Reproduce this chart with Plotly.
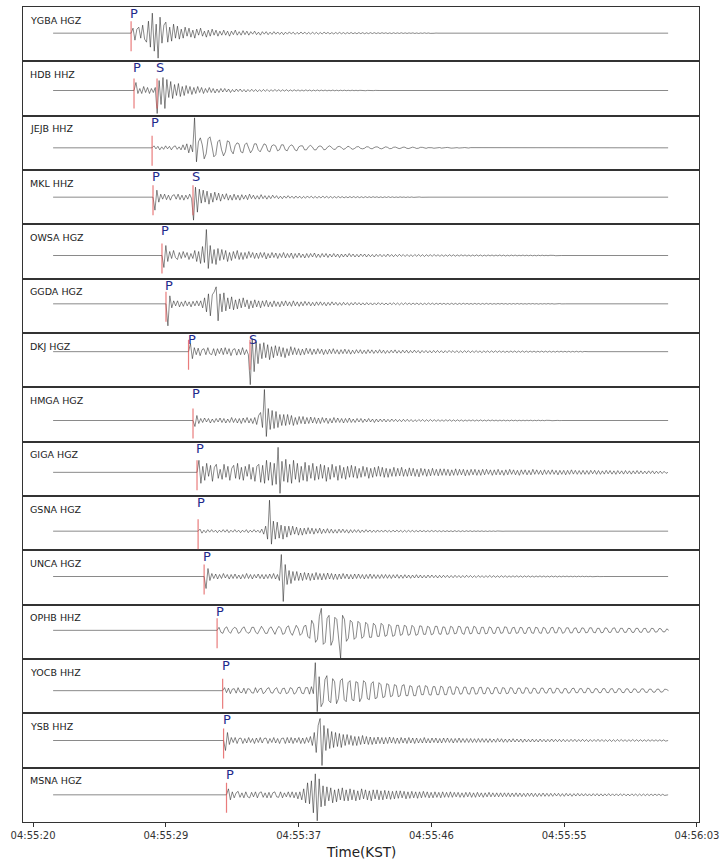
import numpy as np
import plotly.graph_objects as go
from plotly.subplots import make_subplots

# ---------------- data ----------------
stations = ["YGBA HGZ", "HDB HHZ", "JEJB HHZ", "MKL HHZ", "OWSA HGZ", "GGDA HGZ",
            "DKJ HGZ", "HMGA HGZ", "GIGA HGZ", "GSNA HGZ", "UNCA HGZ", "OPHB HHZ",
            "YOCB HHZ", "YSB HHZ", "MSNA HGZ"]

# seconds after 04:55:00 (KST)
p_times = [26.35, 26.54, 27.71, 27.77, 28.35, 28.61, 30.07, 30.36, 30.62, 30.69,
           31.08, 31.92, 32.28, 32.34, 32.53]
s_times = [None, 28.03, None, 30.36, None, None, 34.05, None, None, None,
           None, None, None, None, None]
trace_start = 21.30
trace_end = 61.13
sample_dt = 0.125   # seconds between amplitude samples after the P arrival

tick_vals = [20.0, 28.6, 37.2, 45.8, 54.4, 63.0]
tick_text = ["04:55:20", "04:55:29", "04:55:37", "04:55:46", "04:55:55", "04:56:03"]

# amplitudes, starting at the P arrival (quiet remainder is zero)
amp_ygba = [0, 5, -7, 4, 6, -5, 8, -6, -9, 12, -14, 20, -18, 9, -25, 16,
            -10, 8, 11, -9, 6, -8, 9, -5, 7, -6, 4, -5, 6, -3, 5, -4,
            3, -5, 4, -2, 5, -3, 2, -4, 3, -3, 4, -2, 3, -3, 2, -2,
            3, -2, 2, -3, 2, -1.5, 3, -2, 1.5, -2, 2.5, -1.5, 2, -2, 1.5, -1,
            2, -1.5, 1, -2, 1.5, -1, 1.5, -1.5, 1, -1.2, 1.5, -1, 1.2, -1.2, 1, -1.5,
            1, -1, 1.3, -0.8, 1, -1.2, 0.8, -1, 1.2, -0.8, 1, -1, 0.8, -1, 1, -0.8,
            0.8, -1, 0.7, -0.8, 1, -0.6, 0.8, -0.8, 0.6, -0.8, 0.7, -0.6, 0.8, -0.6, 0.6, -0.7,
            0.6, -0.5, 0.7, -0.6, 0.5, -0.6, 0.6, -0.5, 0.5, -0.6, 0.4, -0.5, 0.5, -0.4, 0.5, -0.4,
            0.4, -0.4, 0.5, -0.3, 0.4, -0.4, 0.3, -0.4, 0.4, -0.3, 0.3, -0.3, 0.4, -0.3, 0.3, -0.3,
            0.3, -0.2, 0.3, -0.3, 0.2, -0.3, 0.2, -0.2, 0.3, -0.2, 0.2, -0.2, 0.2, -0.1, 0.1, 0]
amp_hdb = [0, 8, -3, 2, -3, 4, -2, 3, -3, 2, -2, 3, -23, 10, -14, 13,
           -18, 11, -7, 9, -8, 6, -5, 7, -6, 4, -5, 5, -3, 4, -4, 3,
           -3, 4, -2, 3, -3, 2, -2, 3, -2, 2, -2.5, 1.5, -2, 2, -1.5, 2,
           -1.5, 1.5, -2, 1, -1.5, 1.5, -1, 1.5, -1.2, 1, -1.5, 1, -1, 1.2, -1, 1,
           -1.2, 0.8, -1, 1, -0.8, 1, -1, 0.8, -0.8, 1, -0.7, 0.8, -0.8, 0.7, -0.6, 0.8,
           -0.7, 0.6, -0.6, 0.7, -0.5, 0.6, -0.6, 0.5, -0.5, 0.6, -0.4, 0.5, -0.5, 0.4, -0.4, 0.5,
           -0.4, 0.4, -0.3, 0.4, -0.4, 0.3, -0.3, 0.4, -0.3, 0.3, -0.3, 0.3, -0.2, 0.3, -0.2, 0.2,
           -0.2, 0.3, -0.2, 0.2, -0.2, 0.2, -0.1, 0.2, -0.2, 0.1, -0.1, 0.2, -0.1, 0.1, -0.1, 0]
amp_jejb = [0, 2, -1, 1.5, -2, 1, -1.5, 2, -1, 1.5, -2, 1, 2, -1.5, 1, -2,
            3, -2, 4, -5, 3, -4, 30, -14, 6, 10, 3, -11, -6, 9, 11, 2,
            -9, -7, 6, 8, -2, -8, -4, 7, 6, -3, -6, 2, 5, 4, -4, -5,
            3, 5, -1, -5, -2, 4, 4, -2, -4, 1, 4, 3, -3, -4, 2, 3,
            2, -3, -2, 3, 3, -2, -3, 1, 3, 2, -2, -3, 1, 2, 2, -2,
            -2, 1, 2.5, 1, -2, -2, 1, 2, 1, -2, -1.5, 1, 2, 0.5, -1.5, -1.5,
            1, 1.5, 0.5, -1.5, -1, 1, 1.5, -0.5, -1.5, -0.5, 1, 1.2, -0.5, -1, -0.5, 1,
            1, -0.5, -1, 0.2, 1, 0.8, -0.6, -1, 0.3, 1, 0.5, -0.8, -0.7, 0.5, 0.8, -0.3,
            -0.8, -0.3, 0.7, 0.6, -0.5, -0.7, 0.3, 0.7, 0.2, -0.6, -0.4, 0.5, 0.5, -0.3, -0.5, 0.2,
            0.5, 0.1, -0.4, -0.3, 0.4, 0.3, -0.3, -0.4, 0.2, 0.4, -0.1, -0.3, -0.2, 0.3, 0.2, -0.2,
            -0.3, 0.1, 0.3, -0.1, -0.2, 0.2, 0.2, -0.2, -0.2, 0.1, 0.2, -0.1, -0.1, 0.1, 0.1, 0]
amp_mkl = [0, -13, 7, -5, 3, -2, 3, -2.5, 2, -3, 1.5, 2.5, -2, 3, -2.5, 2,
           -3, 2, -2, 3, -1.5, -23, 10, -15, 8, -6, 7, -5, 6, -7, 4, -5,
           5, -3, 4, -4, 3, -2, 3.5, -3, 2, -3, 3, -2.5, 2, -3, 2.5, -2,
           2, -2.5, 3, -1.5, 2, -2, 1.5, -2, 2.5, -1.5, 1.5, -2, 1.5, -1.5, 2, -1,
           1.5, -1.5, 1, -1.5, 1.2, -1, 1.5, -1, 1, -1.2, 1.2, -1, 1, -1.2, 0.8, -1,
           1.2, -0.8, 1, -1, 0.8, -1, 0.8, -0.8, 1, -0.7, 0.8, -0.8, 0.7, -0.8, 0.6, -0.7,
           0.7, -0.6, 0.6, -0.7, 0.5, -0.6, 0.6, -0.5, 0.6, -0.5, 0.5, -0.5, 0.4, -0.5, 0.5, -0.4,
           0.4, -0.4, 0.5, -0.3, 0.4, -0.4, 0.3, -0.4, 0.3, -0.3, 0.4, -0.3, 0.3, -0.3, 0.2, -0.3,
           0.3, -0.2, 0.2, -0.3, 0.2, -0.2, 0.2, -0.2, 0.1, -0.2, 0.2, -0.1, 0.1, -0.1, 0.1, 0]
amp_owsa = [0, -12, 10, -6, 4, -3, 5, -2, -4, 3, -3, 4, -2, 3, -4, 2,
            -3, 5, -6, 4, -8, 9, -7, 26, -13, 10, -8, 6, -9, 7, -5, 6,
            -4, 5, -6, 3, -5, 4, -3, 5, -4, 3, -4, 3, -3, 4, -2, 3,
            -3, 2.5, -3, 3, -2, 3, -3.5, 2, -2.5, 3, -2, 2.5, -3, 2, -2, 3,
            -2.5, 2, -2, 2.5, -3, 2, -2, 2.5, -2, 1.5, -2.5, 2, -2, 2, -1.5, 2.5,
            -2, 1.5, -2, 2, -1.5, 2, -2, 1.5, -1.5, 2, -1.5, 1.5, -2, 1.5, -1.5, 1.5,
            -1.5, 2, -1.2, 1.5, -1.5, 1.2, -1.5, 1.5, -1, 1.5, -1.5, 1.2, -1.2, 1, -1.5, 1.2,
            -1, 1.2, -1.2, 1, -1.2, 1.5, -1, 1, -1.2, 1, -1, 1.2, -0.8, 1, -1, 1,
            -1, 0.8, -1, 1, -0.8, 1, -0.8, 0.8, -1, 0.8, -0.7, 0.8, -0.8, 1, -0.7, 0.8,
            -0.8, 0.7, -0.8, 0.6, -0.7, 0.8, -0.6, 0.7, -0.7, 0.6, -0.6, 0.7, -0.5, 0.6, -0.6, 0.5,
            -0.6, 0.5, -0.5, 0.6, -0.5, 0.5, -0.6, 0.4, -0.5, 0.5, -0.4, 0.5, -0.5, 0.4, -0.4, 0.5,
            -0.4, 0.4, -0.5, 0.3, -0.4, 0.4, -0.3, 0.4, -0.4, 0.3, -0.3, 0.4, -0.3, 0.3, -0.3, 0.3,
            -0.3, 0.2, -0.3, 0.3, -0.2, 0.3, -0.2, 0.2, -0.2, 0.2, -0.2, 0.1, -0.2, 0.1, -0.1, 0]
amp_ggda = [0, -22, 8, -4, 3, -2, 3, -3, 2, -2.5, 3, -2, 2, -3, 2.5, -2,
            3, -2, 3, -4, 6, -8, 10, -12, 9, 12, 17, -17, 10, -8, 11, -7,
            6, -5, 7, -6, 4, -5, 5, -4, 6, -3, 4, -5, 3, -4, 4, -3,
            3, -4, 3, -2.5, 3.5, -3, 2, -3, 3, -2.5, 2, -3, 2.5, -2, 3, -2,
            2, -2.5, 3, -2, 2, -2.5, 2, -2, 2.5, -1.5, 2, -2, 1.5, -2, 2, -1.5,
            2, -1.5, 1.5, -2, 1.5, -1.5, 2, -1.2, 1.5, -1.5, 1.2, -1.5, 1.5, -1.2, 1.2, -1.5,
            1.2, -1.2, 1.5, -1, 1.2, -1.2, 1, -1.2, 1.2, -1, 1, -1.2, 1, -1, 1.2, -0.8,
            1, -1, 0.8, -1, 1, -0.8, 1, -0.8, 0.8, -1, 0.8, -0.8, 1, -0.7, 0.8, -0.8,
            0.8, -0.7, 0.8, -0.8, 0.7, -0.8, 0.6, -0.7, 0.8, -0.6, 0.7, -0.7, 0.6, -0.6, 0.7, -0.6,
            0.6, -0.6, 0.5, -0.6, 0.6, -0.5, 0.5, -0.6, 0.5, -0.5, 0.6, -0.4, 0.5, -0.5, 0.4, -0.5,
            0.5, -0.4, 0.4, -0.5, 0.4, -0.4, 0.5, -0.4, 0.4, -0.4, 0.3, -0.4, 0.4, -0.3, 0.4, -0.3,
            0.3, -0.4, 0.3, -0.3, 0.3, -0.3, 0.4, -0.3, 0.3, -0.3, 0.2, -0.3, 0.3, -0.2, 0.3, -0.2,
            0.2, -0.3, 0.2, -0.2, 0.2, -0.2, 0.3, -0.2, 0.2, -0.2, 0.1, -0.2, 0.2, -0.1, 0.1, 0]
amp_dkj = [0, 8, -7, 4, -3, 3.5, -4, 2, 3, -3, 4, -2, -3, 3, -4, 3,
           -2, 3.5, -3, 4, -2.5, 3, -4, 2, 3, -3.5, 2.5, -3, 4, -3, 2, -3,
           -33, 13, -20, 10, -12, 8, -7, 9, -6, 7, -8, 5, -6, 6, -4, 5,
           -5, 4, -6, 3, -4, 5, -3, 4, -3, 3, -3.5, 2.5, -3, 3.5, -2, 3,
           -3, 2.5, -2.5, 3, -2, 2.5, -3, 2, -2.5, 2.5, -2, 3, -2, 2, -2.5, 2,
           -2, 2.5, -2, 2, -2.5, 1.5, -2, 2, -1.5, 2, -2, 1.5, -2, 2, -1.5, 1.8,
           -1.8, 1.5, -1.5, 2, -1.5, 1.5, -1.8, 1.2, -1.5, 1.5, -1.2, 1.8, -1.5, 1.2, -1.5, 1.5,
           -1.2, 1.5, -1.5, 1.2, -1.2, 1.5, -1, 1.2, -1.5, 1.2, -1, 1.2, -1.2, 1, -1.2, 1.2,
           -1, 1.2, -1, 1, -1.2, 1, -1, 1.2, -0.8, 1, -1, 1, -1, 0.8, -1, 1,
           -0.8, 1, -1, 0.8, -0.8, 1, -0.8, 0.8, -1, 0.8, -0.7, 0.8, -0.8, 0.8, -0.7, 0.8,
           -0.7, 0.8, -0.7, 0.7, -0.8, 0.6, -0.7, 0.7, -0.6, 0.7, -0.7, 0.6, -0.6, 0.7, -0.6, 0.6,
           -0.6, 0.6, -0.5, 0.6, -0.6, 0.5, -0.5, 0.6, -0.5, 0.5, -0.5, 0.5, -0.5, 0.4, -0.5, 0.5,
           -0.4, 0.5, -0.4, 0.4, -0.4, 0.4, -0.4, 0.3, -0.3, 0.4, -0.3, 0.3, -0.3, 0.2, -0.2, 0]
amp_hmga = [0, -6, 5, -3, 2, -2, 2.5, -1.5, 2, -2.5, 1.5, -2, 2, -1.5, 2.5, -2,
            2, -2.5, 1.5, -2, 3, -2, 2, -2.5, 2, -3, 2.5, -2, 3, -2.5, 2, -3,
            3, -4, 5, 8, -7, 31, -16, 12, -9, 10, -8, 9, -7, 6, -5, 6,
            -5, 6, -4, 5, -5, 3, -4, 4, -3, 4, -3.5, 3, -3, 3.5, -2.5, 3,
            -3, 2.5, -3, 3, -2, 2.5, -3, 2, -2.5, 3, -2, 2.5, -2, 2, -2.5, 2,
            -2, 2.5, -2, 1.5, -2, 2, -1.5, 2, -2, 1.5, -1.5, 2, -1.5, 1.5, -2, 1.5,
            -1.5, 1.5, -1.2, 1.5, -1.5, 1.2, -1.2, 1.5, -1, 1.2, -1.2, 1, -1.2, 1.2, -1, 1.2,
            -1, 1, -1.2, 0.8, -1, 1, -0.8, 1, -1, 0.8, -0.8, 1, -0.8, 0.8, -0.8, 0.8,
            -0.8, 0.7, -0.8, 0.8, -0.6, 0.8, -0.7, 0.6, -0.7, 0.7, -0.6, 0.6, -0.7, 0.5, -0.6, 0.6,
            -0.5, 0.6, -0.6, 0.5, -0.5, 0.6, -0.5, 0.4, -0.5, 0.5, -0.4, 0.5, -0.4, 0.4, -0.5, 0.4,
            -0.4, 0.4, -0.4, 0.3, -0.4, 0.4, -0.3, 0.3, -0.4, 0.3, -0.3, 0.3, -0.3, 0.3, -0.2, 0.3,
            -0.3, 0.2, -0.2, 0.3, -0.2, 0.2, -0.2, 0.2, -0.2, 0.1, -0.2, 0.1, -0.1, 0.1, -0.1, 0]
amp_giga = [0, 12, -11, 6, -8, 9, -4, 7, -9, 5, 8, -6, 3, -7, 8, -5,
            6, -8, 4, 7, -6, 9, -7, 5, -8, 6, -4, 8, -7, 5, -9, 6,
            8, -10, 7, -11, 12, -8, 10, -13, 9, -12, 25, -21, 11, -9, 13, -10,
            8, -11, 12, -7, 9, -10, 6, -8, 10, -9, 7, -6, 9, -8, 6, -7,
            8, -6, 7, -9, 5, -7, 8, -5, 6, -8, 7, -6, 5, -7, 6, -5,
            7, -5, 6, -6, 4, -5, 6, -4, 5, -6, 4, -5, 5, -4, 6, -4,
            5, -5, 4, -5, 3.5, -4, 5, -4, 4, -3.5, 5, -4, 3, -4, 4.5, -3.5,
            4, -4, 3, -4.5, 4, -3, 3.5, -4, 3, -3.5, 4, -3, 3, -3.5, 3.5, -3,
            3.5, -3, 3, -3.5, 2.5, -3, 3.5, -3, 3, -2.5, 3, -3.5, 2.5, -3, 3, -2.5,
            3, -3, 2.5, -3, 3, -2.5, 3, -2, 2.5, -3, 2.5, -2.5, 3, -2.5, 2, -3,
            2.5, -2.5, 3, -2, 2.5, -2.5, 2, -3, 2.5, -2, 2.5, -2.5, 2, -2.5, 3, -2,
            2.5, -2, 2, -2.5, 2.5, -2, 2, -2, 2.5, -2, 2, -2.5, 2, -2, 2, -2.5,
            2, -2, 2.5, -1.8, 2, -2, 1.8, -2, 2, -2, 1.8, -2, 2, -1.5, 2, -2,
            1.8, -2, 1.5, -1.8, 2, -1.5, 1.8, -1.8, 1.5, -2, 1.8, -1.5, 1.5, -1.8, 1.8, -1.5,
            1.5, -1.8, 1.5, -1.5, 1.8, -1.5, 1.5, -1.5, 1.2, -1.5, 1.5, -1.2, 1.5, -1.5, 1.2, -1.2,
            1.2, -1.2, 1, -1, 0]
amp_gsna = [0, 2, -2, 1, -1.5, 1.5, -1, 1.5, -1, 1, -1.5, 1, -1, 1.5, -1, 1.5,
            -1.5, 1, -1, 1.5, -1, 1, -1.5, 1, -1, 1.5, -1.5, 1, -1, 1.5, -1, 1,
            -1.5, 2, -3, 5, -8, 31, -13, 10, -8, 9, -7, 6, -8, 5, -6, 5,
            -4, 5, -3, 4, -4, 3, -4, 3, -3, 3.5, -2.5, 3, -3, 2.5, -2, 3,
            -2.5, 2, -2, 2.5, -2, 2, -2, 1.5, -2, 2, -1.5, 2, -1.5, 1.5, -2, 1.5,
            -1.5, 1.5, -1.2, 1.5, -1.5, 1.2, -1.2, 1.5, -1, 1.2, -1.2, 1, -1.2, 1.2, -1, 1,
            -1, 1.2, -1, 0.8, -1, 1, -0.8, 1, -0.8, 0.8, -1, 0.8, -0.8, 0.8, -0.7, 0.8,
            -0.8, 0.7, -0.7, 0.8, -0.6, 0.7, -0.7, 0.6, -0.6, 0.7, -0.5, 0.6, -0.6, 0.5, -0.6, 0.5,
            -0.5, 0.5, -0.5, 0.4, -0.5, 0.5, -0.4, 0.4, -0.5, 0.4, -0.4, 0.4, -0.3, 0.4, -0.4, 0.3,
            -0.3, 0.3, -0.3, 0.3, -0.3, 0.2, -0.3, 0.2, -0.2, 0.2, -0.2, 0.2, -0.1, 0.1, -0.1, 0]
amp_unca = [0, -12, 8, -4, 3, -2, 2.5, -2.5, 2, -2, 3, -1.5, 2, -2.5, 2, -2,
            2.5, -2, 1.5, -2.5, 2, -2, 3, -2, 2, -2.5, 2, -1.5, 2.5, -2, 2, -2.5,
            2, -2, 2.5, -2, 3, -2.5, 2, -4, 22, -25, 12, -8, 6, -7, 5, -4,
            5, -4, 3.5, -4, 4, -3, 3.5, -4, 3, -3.5, 4, -3, 3, -3.5, 3, -3,
            3.5, -2.5, 3, -3, 2.5, -3, 2.5, -2.5, 3, -2, 2.5, -2.5, 2, -2.5, 2.5, -2,
            2.5, -2, 2, -2.5, 2, -2, 2.5, -2, 2, -2, 1.8, -2, 2, -1.8, 2, -1.8,
            1.8, -2, 1.8, -1.5, 2, -1.8, 1.5, -1.8, 1.8, -1.5, 1.5, -1.8, 1.5, -1.5, 1.8, -1.5,
            1.5, -1.5, 1.2, -1.5, 1.5, -1.2, 1.5, -1.2, 1.2, -1.5, 1.2, -1.2, 1.2, -1, 1.2, -1.2,
            1, -1.2, 1.2, -1, 1, -1.2, 1, -1, 1.2, -0.8, 1, -1, 0.8, -1, 1, -0.8,
            0.8, -1, 0.8, -0.8, 1, -0.8, 0.8, -0.8, 0.7, -0.8, 0.8, -0.7, 0.7, -0.8, 0.6, -0.7,
            0.7, -0.6, 0.7, -0.6, 0.6, -0.7, 0.6, -0.5, 0.6, -0.6, 0.5, -0.6, 0.5, -0.5, 0.6, -0.5,
            0.5, -0.5, 0.4, -0.5, 0.5, -0.4, 0.4, -0.5, 0.4, -0.4, 0.4, -0.3, 0.4, -0.3, 0.3, -0.3,
            0.3, -0.3, 0.3, -0.2, 0.3, -0.2, 0.2, -0.2, 0.2, -0.2, 0.1, -0.2, 0.1, -0.1, 0.1, 0]
amp_ophb = [0, 3, -2, -3, 2, 3.5, -1, -3, 1, 3, 2, -3, -2, 2, 3.5, -1,
            -3, -2, 3, 3, -2, -3.5, 1, 4, 1, -3, -3, 2, 3.5, -1, -4, 1,
            4, 2, -4, -3, 3, 4.5, -2, -5, 1, 5, 2, -5, -3, 4, 5, -6,
            -8, 10, 6, -12, -9, 14, 22, -14, -12, 12, 15, -15, -10, 13, 11, -9,
            -28, 15, 11, -11, -8, 10, 8, -9, -7, 9, 7, -8, -6, 8, 6, -7,
            -7, 7, 5, -6, -6, 7, 5, -6, -5, 6, 4, -6, -5, 5, 5, -5,
            -4, 5, 4, -5, -4, 5, 3, -5, -4, 4.5, 4, -4, -4, 4, 3, -4.5,
            -3.5, 4, 4, -3.5, -4, 3.5, 3, -4, -3.5, 4, 3, -3.5, -3, 4, 3.5, -3,
            -4, 3, 3.5, -3.5, -3, 4, 3, -3, -3.5, 3, 3, -3.5, -3, 3.5, 2.5, -3,
            -3, 3, 3, -3, -2.5, 3.5, 3, -3, -3, 2.5, 3, -3, -2.5, 3, 2.5, -3,
            -3, 2.5, 3, -2.5, -3, 3, 2.5, -2.5, -3, 3, 2, -3, -2.5, 2.5, 3, -2.5,
            -2.5, 3, 2, -3, -2, 2.5, 2.5, -2.5, -2.5, 2, 2.5, -2.5, -2, 2.5, 2, -2.5,
            -2, 2.5, 2.5, -2, -2.5, 2, 2, -2.5, -2, 2.5, 2, -2, -2, 2, 2.5, -2,
            -2, 2, 2, -2, -2, 2, 1.8, -2, -2, 2, 2, -1.8, -2, 1.8, 2, -2,
            -1.8, 2, 1.8, -1.8, -1.5, 1.8, 1.5, -1.5, -1.5, 1.5, 0]
amp_yocb = [0, 3, -2, 2.5, -3, 1.5, 2, -2.5, 3, -1.5, -2, 2.5, -3, 2, 1.5, -2,
            -2.5, 3, -2, 1.5, 2.5, -3, -1.5, 2, 3, -2, -2.5, 1.5, 3, -2, -3, 2,
            2.5, -3, -2, 3, 2, -3.5, -2, 3, 3.5, -2.5, -3, 3, 3, -3.5, 4, -3,
            28, -21, 14, -16, -12, 11, 15, -10, -12, 12, 9, -13, -8, 10, 12, -9,
            -11, 8, 10, -9, -10, 9, 8, -11, -7, 10, 8, -8, -9, 7, 9, -8,
            -7, 8, 6, -7, -6, 7, 6, -6, -5, 6, 5, -6, -5, 5, 6, -5,
            -5, 5, 4, -5, -5, 4, 5, -4, -4, 5, 4, -4, -4.5, 4, 4, -4,
            -4, 4.5, 3.5, -4, -4, 3.5, 4, -3.5, -3.5, 4, 3, -3.5, -3, 3.5, 3.5, -3,
            -3.5, 3, 3, -3.5, -3, 3, 3.5, -3, -3, 3, 2.5, -3, -3, 3, 3, -2.5,
            -3, 3, 2.5, -3, -2.5, 3, 2.5, -2.5, -3, 2.5, 2.5, -2.5, -2.5, 3, 2.5, -2.5,
            -2.5, 2.5, 2, -2.5, -2.5, 2.5, 2.5, -2, -2.5, 2, 2.5, -2.5, -2, 2.5, 2, -2,
            -2.5, 2, 2, -2.5, -2, 2, 2.5, -2, -2, 2, 2, -2, -2, 2.5, 2, -2,
            -2, 2, 1.8, -2, -2, 2, 2, -1.8, -2, 1.8, 2, -2, -1.8, 2, 1.8, -1.8,
            -2, 1.8, 1.8, -1.8, -1.8, 1.8, 1.5, -1.8, -1.5, 1.8, 1.8, -1.5, -1.8, 1.5, 1.5, -1.5,
            -1.5, 1.5, 1.5, -1.5, -1.2, 1.5, 1.2, 0]
amp_ysb = [0, -10, 8, -4, 3, -2, 3, -3, 2, 2.5, -3, 2, -2.5, 3, -2, 2,
           -3, 2.5, -2, 3, -2.5, 2, 2.5, -3, 2, -2, 3, -2.5, 2, -3, 2, 2.5,
           -3, 3, -2.5, 3, -3, 2.5, -2, 3, -3, 2.5, -3, 3, -2, 4, -5, 8,
           -12, 15, 22, -25, 15, -10, 12, -8, 9, -7, 8, -6, 7, -7, 6, -5,
           6, -4, 5, -5, 4, -5, 4, -4, 5, -3.5, 4, -4, 3.5, -4, 3, -3.5,
           3.5, -3, 3, -3.5, 3, -3, 3.5, -2.5, 3, -3, 2.5, -3, 3, -2.5, 2.5, -3,
           3, -2.5, 2.5, -3, 2.5, -2.5, 2, -2.5, 3, -2.5, 2, -2.5, 2.5, -2, 2.5, -2.5,
           2, -2.5, 2.5, -2, 2.5, -2, 2, -2.5, 2, -2, 2.5, -2, 2, -2, 2, -2,
           2, -2, 1.8, -2, 2, -1.8, 2, -1.8, 1.8, -2, 1.8, -1.8, 1.5, -1.8, 2, -1.5,
           1.8, -1.8, 1.5, -1.8, 1.5, -1.5, 1.8, -1.5, 1.5, -1.5, 1.5, -1.8, 1.5, -1.5, 1.2, -1.5,
           1.5, -1.5, 1.2, -1.5, 1.5, -1.2, 1.2, -1.5, 1.2, -1.2, 1.5, -1.2, 1.2, -1.2, 1.2, -1.2,
           1.2, -1.2, 1, -1.2, 1.2, -1, 1.2, -1.2, 1, -1, 1.2, -1, 1, -1.2, 1, -1,
           1, -1, 1.2, -1, 1, -1, 0.8, -1, 1, -1, 0.8, -1, 1, -0.8, 1, -0.8,
           0.8, -1, 0.8, -0.8, 1, -0.8, 0.8, -0.8, 0.8, -0.8, 0.7, -0.8, 0.8, -0.7, 0.8, -0.7,
           0.7, -0.7, 0.7, -0.6, 0.6, -0.6, 0]
amp_msna = [0, 6, -5, 3, -3, 2, 3.5, -2.5, 2, -3, 3, -2, -3, 2.5, -2, 3,
            -3, 2, 3, -2.5, 2, -3, 2.5, -3, 2, 3, -2, -2.5, 3, -3, 2, -2,
            3, -2.5, 3, -3, 2.5, -4, 3, -5, 6, -8, 12, -9, 14, -18, 21, -26,
            16, -12, 9, -11, 8, -6, 7, -8, 5, -7, 6, -5, 7, -6, 5, -6,
            6, -5, 5, -6, 4, -5, 6, -4, 5, -5, 4, -6, 5, -4, 5, -5,
            4, -5, 4.5, -4, 4, -4.5, 3.5, -4, 4, -3.5, 4, -3, 3.5, -4, 3, -3.5,
            3.5, -3, 3, -3.5, 3, -3, 3.5, -2.5, 3, -3, 2.5, -3, 3, -2.5, 2.5, -3,
            3, -2.5, 2.5, -2.5, 3, -2.5, 2.5, -2, 2.5, -2.5, 2, -2.5, 2.5, -2, 2.5, -2.5,
            2, -2.5, 2.5, -2, 2, -2.5, 2, -2, 2.5, -2, 2, -2, 2, -2, 2, -2,
            2, -1.8, 2, -2, 1.8, -1.8, 2, -1.8, 1.8, -1.8, 1.5, -1.8, 1.8, -1.5, 1.8, -1.8,
            1.5, -1.8, 1.5, -1.5, 1.8, -1.5, 1.5, -1.5, 1.5, -1.5, 1.5, -1.2, 1.5, -1.5, 1.2, -1.5,
            1.5, -1.2, 1.2, -1.5, 1.2, -1.2, 1.5, -1.2, 1.2, -1.2, 1.2, -1.2, 1, -1.2, 1.2, -1,
            1.2, -1.2, 1, -1.2, 1, -1, 1.2, -1, 1, -1, 1, -1, 1, -0.8, 1, -1,
            0.8, -1, 1, -0.8, 0.8, -1, 0.8, -0.8, 0.8, -0.8, 0.8, -0.8, 0.7, -0.8, 0.8, -0.7,
            0.7, -0.7, 0.6, -0.6, 0]

amplitudes = [amp_ygba, amp_hdb, amp_jejb, amp_mkl, amp_owsa, amp_ggda, amp_dkj, amp_hmga,
              amp_giga, amp_gsna, amp_unca, amp_ophb, amp_yocb, amp_ysb, amp_msna]

# ---------------- layout settings ----------------
n = len(stations)
half_h = 27.17                      # half panel height in amplitude units
baseline_shift = [-1, 2, 5, 0, 4, -2, -8.5, 6, 3.5, 8, -1, -1.5, 4.5, 0, 0]
x_range = [19.35, 63.13]
pick_color = "rgba(225,80,80,0.75)"
label_color = "#1f2a8c"

fig = make_subplots(rows=n, cols=1, shared_xaxes=True, vertical_spacing=0)

for i in range(n):
    vals = amplitudes[i]
    t = [trace_start] + [p_times[i] + k * sample_dt for k in range(len(vals))]
    y = [0] + list(vals)
    if t[-1] < trace_end - 0.01:
        t.append(trace_end)
        y.append(0)
    fig.add_trace(go.Scatter(x=t, y=y, mode="lines",
                             line=dict(color="#151515", width=0.5),
                             showlegend=False, hoverinfo="skip"),
                  row=i + 1, col=1)

    ax = "" if i == 0 else str(i + 1)
    xref = "x" + ax
    yref = "y" + ax

    picks = [("P", p_times[i])]
    if s_times[i] is not None:
        picks.append(("S", s_times[i]))
    for name, pt in picks:
        fig.add_shape(type="line", xref=xref, yref=yref, x0=pt, x1=pt, y0=-18, y1=12,
                      line=dict(color=pick_color, width=1.2))
        fig.add_annotation(xref=xref, yref=yref + " domain", x=pt, y=1.0,
                           text=name, showarrow=False, xanchor="left", yanchor="top",
                           xshift=-3, yshift=3,
                           font=dict(family="DejaVu Sans", size=13, color=label_color))

    fig.add_annotation(xref=xref + " domain", yref=yref + " domain", x=0.008, y=0.76,
                       text=stations[i], showarrow=False, xanchor="left", yanchor="middle",
                       font=dict(family="DejaVu Sans", size=9.5, color="#222222"))

    fig.update_yaxes(range=[-(half_h - baseline_shift[i]), half_h + baseline_shift[i]],
                     showticklabels=False, showgrid=False, zeroline=False, ticks="",
                     showline=True, mirror=True, linecolor="#333333", linewidth=1,
                     automargin=False, row=i + 1, col=1)
    fig.update_xaxes(range=x_range, showgrid=False, zeroline=False,
                     showline=True, mirror=True, linecolor="#333333", linewidth=1,
                     automargin=False, row=i + 1, col=1)

fig.update_xaxes(tickmode="array", tickvals=tick_vals, ticktext=tick_text,
                 ticks="outside", ticklen=4, tickcolor="#333333", showticklabels=True,
                 tickfont=dict(family="DejaVu Sans", size=10, color="#333333"),
                 row=n, col=1)

fig.add_annotation(xref="paper", yref="paper", x=0.5, y=0, yshift=-30,
                   text="Time(KST)", showarrow=False, xanchor="center", yanchor="middle",
                   font=dict(family="DejaVu Sans", size=13.5, color="#222222"))

fig.update_layout(width=721, height=862,
                  margin=dict(l=23, r=22, t=7, b=40),
                  paper_bgcolor="white", plot_bgcolor="white",
                  showlegend=False)

fig.write_html("out.html",
               config={"displayModeBar": False},
               post_script="document.body.style.margin='0';document.body.style.padding='0';")
